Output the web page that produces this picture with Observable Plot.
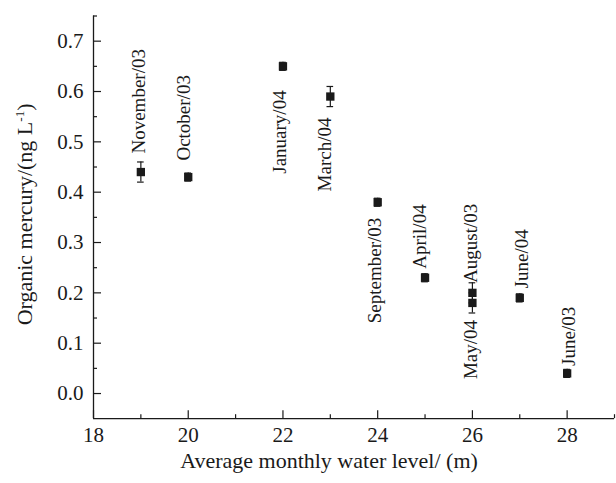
<!DOCTYPE html>
<html>
<head>
<meta charset="utf-8">
<script src="https://cdn.jsdelivr.net/npm/d3@7"></script>
<script src="https://cdn.jsdelivr.net/npm/@observablehq/plot@0.6"></script>
<style>
  html, body { margin: 0; padding: 0; background: #fff; }
  #chart svg { display: block; }
  #chart svg, #chart svg text, #chart svg g { font-family: "Liberation Serif", "Times New Roman", serif !important; }
</style>
</head>
<body>
<div id="chart"></div>
<script>
// ---- data ----
const months = ["November/03", "October/03", "January/04", "March/04", "September/03",
                "April/04", "August/03", "May/04", "June/04", "June/03"];
const waterLevel = [19, 20, 22, 23, 24, 25, 26, 26, 27, 28];
const mercury = [0.44, 0.43, 0.65, 0.59, 0.38, 0.23, 0.20, 0.18, 0.19, 0.04];
const errors = [0.02, 0.008, 0.008, 0.02, 0.008, 0.008, 0.02, 0.02, 0.008, 0.008];

const xDomain = [18, 29];
const yDomain = [-0.05, 0.75];
const xTicks = [18, 20, 22, 24, 26, 28];
const xMinorTicks = [19, 21, 23, 25, 27, 29];
const yTicks = [0, 0.1, 0.2, 0.3, 0.4, 0.5, 0.6, 0.7];
const yMinorTicks = [0.05, 0.15, 0.25, 0.35, 0.45, 0.55, 0.65, 0.75];

const xTitle = "Average monthly water level/ (m)";
const yTitle = "Organic mercury/(ng L-1)";

// ---- layout (label placement, kept apart from the data) ----
const labelLayout = {
  "November/03":  {side: "above", dx: -1.5, dy: -18.5},
  "October/03":   {side: "above", dx: -4,   dy: -16.5},
  "January/04":   {side: "below", dx: -3,   dy: 24},
  "March/04":     {side: "below", dx: -5.5, dy: 21},
  "September/03": {side: "below", dx: -3,   dy: 15.5},
  "April/04":     {side: "above", dx: -5,   dy: -9},
  "August/03":    {side: "above", dx: -2,   dy: -10},
  "May/04":       {side: "below", dx: -2,   dy: 17},
  "June/04":      {side: "above", dx: 2,    dy: -9.5},
  "June/03":      {side: "above", dx: 1.5,  dy: -7.5}
};

const data = months.map((m, i) => ({m, x: waterLevel[i], y: mercury[i], e: errors[i]}));

const W = 616, H = 483;
const mL = 93, mR = 2, mT = 15.5, mB = 64.8;
const plotW = W - mL - mR, plotH = H - mT - mB;
const ink = "#1a1a1a";
const serif = "Liberation Serif";
const capHalf = 0.07;

const labelMarks = data.map(d => {
  const L = labelLayout[d.m];
  return Plot.text([d], {
    x: "x", y: "y", text: "m", rotate: -90,
    textAnchor: L.side === "above" ? "start" : "end",
    lineAnchor: "middle",
    dx: L.dx, dy: L.dy, fontSize: 19, fontFamily: serif, fill: ink
  });
});

const chart = Plot.plot({
  width: W, height: H,
  marginLeft: mL, marginRight: mR, marginTop: mT, marginBottom: mB,
  style: {fontFamily: serif, color: ink, background: "#fff"},
  x: {domain: xDomain},
  y: {domain: yDomain},
  marks: [
    // axis lines
    Plot.ruleY([yDomain[0]], {stroke: ink, strokeWidth: 1.3}),
    Plot.ruleX([xDomain[0]], {stroke: ink, strokeWidth: 1.3}),
    // inward ticks
    Plot.ruleX(xTicks, {stroke: ink, strokeWidth: 1.2, insetTop: plotH - 8}),
    Plot.ruleX(xMinorTicks, {stroke: ink, strokeWidth: 1.2, insetTop: plotH - 4}),
    Plot.ruleY(yTicks, {stroke: ink, strokeWidth: 1.2, insetRight: plotW - 8}),
    Plot.ruleY(yMinorTicks, {stroke: ink, strokeWidth: 1.2, insetRight: plotW - 4}),
    // tick labels
    Plot.axisX({ticks: xTicks, tickSize: 0, tickPadding: 8, fontSize: 21, fontFamily: serif, label: null, fill: ink}),
    Plot.axisY({ticks: yTicks, tickSize: 0, tickPadding: 10, fontSize: 21, fontFamily: serif, label: null, tickFormat: d3.format(".1f"), fill: ink}),
    // axis titles
    Plot.text([xTitle], {frameAnchor: "bottom", lineAnchor: "middle", textAnchor: "middle", dx: -25, dy: 42, fontSize: 22, fontFamily: serif, fill: ink}),
    Plot.text([yTitle], {frameAnchor: "left", lineAnchor: "middle", textAnchor: "middle", dx: -69, dy: -3, rotate: -90, fontSize: 22, fontFamily: serif, fill: ink}),
    // error bars
    Plot.ruleX(data, {x: "x", y1: d => d.y - d.e, y2: d => d.y + d.e, stroke: ink, strokeWidth: 1.2}),
    Plot.ruleY(data, {y: d => d.y - d.e, x1: d => d.x - capHalf, x2: d => d.x + capHalf, stroke: ink, strokeWidth: 1.2}),
    Plot.ruleY(data, {y: d => d.y + d.e, x1: d => d.x - capHalf, x2: d => d.x + capHalf, stroke: ink, strokeWidth: 1.2}),
    // markers
    Plot.dot(data, {x: "x", y: "y", symbol: "square", r: 4.7, fill: ink, stroke: "none"}),
    ...labelMarks
  ]
});

// superscript in y title
d3.select(chart).selectAll("text").filter(function() { return this.textContent === yTitle; })
  .each(function() {
    const t = d3.select(this);
    t.text(null);
    t.append("tspan").text("Organic mercury/(ng L");
    t.append("tspan").attr("dy", "-0.55em").attr("font-size", "0.6em").text("-1");
    t.append("tspan").attr("dy", "0.33em").text(")");
  });

document.getElementById("chart").appendChild(chart);
</script>
</body>
</html>
